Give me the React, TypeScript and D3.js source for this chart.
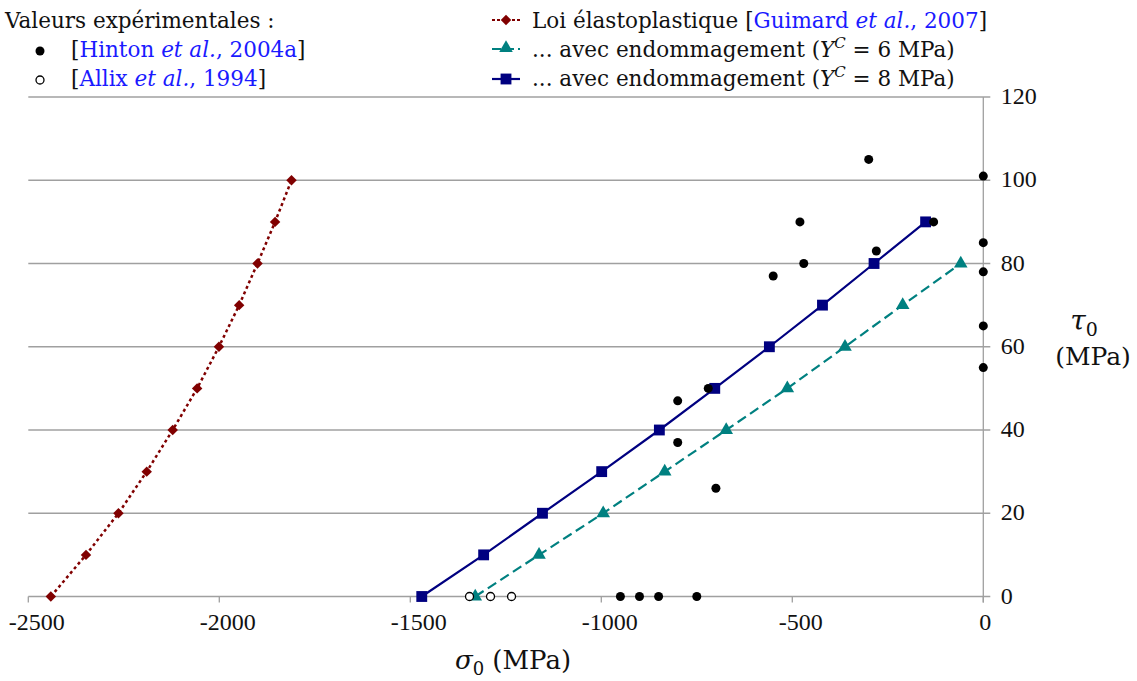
import React from "react";
import * as d3 from "d3";

const xTicks = [-2500, -2000, -1500, -1000, -500, 0];
const yTicks = [0, 20, 40, 60, 80, 100, 120];

const elastoSigma = [-2441, -2349, -2264, -2190, -2122, -2058, -2001, -1948, -1900, -1854, -1811];
const elastoTau = [0, 10, 20, 30, 40, 50, 60, 70, 80, 90, 100];

const damage6Sigma = [-1330, -1163, -995, -834, -673, -513, -362, -211, -59];
const damage6Tau = [0, 10, 20, 30, 40, 50, 60, 70, 80];

const damage8Sigma = [-1470, -1308, -1154, -999, -848, -703, -560, -421, -286, -151];
const damage8Tau = [0, 10, 20, 30, 40, 50, 60, 70, 80, 90];

const hintonSigma = [-950, -900, -850, -750, -800, -800, -720, -700, -300, 0, -480, -130, 0, -280, -470, 0, -550, 0, 0];
const hintonTau = [0, 0, 0, 0, 47, 37, 50, 26, 105, 101, 90, 90, 85, 83, 80, 78, 77, 65, 55];

const allixSigma = [-1345, -1290, -1235];
const allixTau = [0, 0, 0];

const W = 1137;
const H = 681;
const FONT = "DejaVu Serif";
const TICK_FONT = "Liberation Serif";
const BLUE = "#1a1aff";
const RED = "#800000";
const TEAL = "#008080";
const NAVY = "#000080";
const GRID = "#a0a0a0";

const zip = (a: number[], b: number[]) => a.map((v, i) => [v, b[i]] as [number, number]);

export default function App() {
  const x = d3.scaleLinear().domain([-2500, 0]).range([28.3, 983.3]);
  const y = d3.scaleLinear().domain([0, 120]).range([596.5, 97]);
  const line = d3
    .line<[number, number]>()
    .x((d) => x(d[0]))
    .y((d) => y(d[1]));

  const diamond = d3.symbol().type(d3.symbolDiamond2).size(70)()!;
  const tri = d3.symbol().type(d3.symbolTriangle).size(80)()!;
  const square = d3.symbol().type(d3.symbolSquare2).size(150)()!;

  const elasto = zip(elastoSigma, elastoTau);
  const d6 = zip(damage6Sigma, damage6Tau);
  const d8 = zip(damage8Sigma, damage8Tau);
  const hinton = zip(hintonSigma, hintonTau);
  const allix = zip(allixSigma, allixTau);

  const x0 = x(0);

  return (
    <svg
      width={W}
      height={H}
      style={{ position: "absolute", left: 0, top: 0, background: "#fff" }}
      fontFamily={FONT}
    >
      {/* gridlines */}
      {yTicks.map((t) => (
        <line key={"g" + t} x1={x(-2500)} x2={x0 + 7} y1={y(t)} y2={y(t)} stroke={GRID} strokeWidth={1.3} />
      ))}
      {/* vertical axis */}
      <line x1={x0} x2={x0} y1={y(120)} y2={y(0) + 6} stroke={GRID} strokeWidth={1.3} />
      {/* x ticks */}
      {xTicks.map((t) => (
        <line key={"xt" + t} x1={x(t)} x2={x(t)} y1={y(0)} y2={y(0) + 6} stroke={GRID} strokeWidth={1.3} />
      ))}
      {xTicks.map((t) => (
        <text
          key={"xl" + t}
          x={x(t) + (t < 0 ? 8.5 : 2)}
          y={y(0) + 33.5}
          textAnchor="middle"
          fontSize={24}
          fontFamily={TICK_FONT}
          fill="#111"
        >
          {t}
        </text>
      ))}
      {yTicks.map((t) => (
        <text
          key={"yl" + t}
          x={x0 + 17.5}
          y={y(t) + 7}
          textAnchor="start"
          fontSize={24}
          fontFamily={TICK_FONT}
          fill="#111"
        >
          {t}
        </text>
      ))}

      {/* elastoplastic */}
      <path d={line(elasto)!} fill="none" stroke={RED} strokeWidth={2.5} strokeDasharray="3,3" />
      {elasto.map((d, i) => (
        <path key={"e" + i} d={diamond} transform={`translate(${x(d[0])},${y(d[1])})`} fill={RED} />
      ))}

      {/* damage Yc = 6 */}
      <path d={line(d6)!} fill="none" stroke={TEAL} strokeWidth={2.2} strokeDasharray="10,5" />
      {d6.map((d, i) => (
        <path key={"t" + i} d={tri} transform={`translate(${x(d[0])},${y(d[1])})`} fill={TEAL} />
      ))}

      {/* damage Yc = 8 */}
      <path d={line(d8)!} fill="none" stroke={NAVY} strokeWidth={2.2} />
      {d8.map((d, i) => (
        <path key={"s" + i} d={square} transform={`translate(${x(d[0])},${y(d[1])})`} fill={NAVY} />
      ))}

      {/* experimental */}
      {hinton.map((d, i) => (
        <circle key={"h" + i} cx={x(d[0])} cy={y(d[1])} r={4.5} fill="#000" />
      ))}
      {allix.map((d, i) => (
        <circle key={"a" + i} cx={x(d[0])} cy={y(d[1])} r={4} fill="#fff" stroke="#000" strokeWidth={1.3} />
      ))}

      {/* axis titles */}
      <text x={513} y={669} textAnchor="middle" fontSize={26} fill="#111">
        <tspan fontStyle="italic">σ</tspan>
        <tspan fontSize={18} dy={6}>0</tspan>
        <tspan dy={-6}> (MPa)</tspan>
      </text>
      <text x={1084} y={330} textAnchor="middle" fontSize={28} fill="#111">
        <tspan fontStyle="italic">τ</tspan>
        <tspan fontSize={19} dy={6}>0</tspan>
      </text>
      <text x={1093} y={365} textAnchor="middle" fontSize={25} fill="#111">
        (MPa)
      </text>

      {/* left legend */}
      <g fontSize={21.5} fill="#111">
        <text x={5} y={28}>Valeurs expérimentales :</text>
        <circle cx={40} cy={51} r={4.5} fill="#000" />
        <text x={71} y={57}>
          [<tspan fill={BLUE}>Hinton </tspan>
          <tspan fill={BLUE} fontStyle="italic">et al.</tspan>
          <tspan fill={BLUE}>, 2004a</tspan>]
        </text>
        <circle cx={40} cy={80} r={4} fill="#fff" stroke="#000" strokeWidth={1.3} />
        <text x={71} y={86}>
          [<tspan fill={BLUE}>Allix </tspan>
          <tspan fill={BLUE} fontStyle="italic">et al.</tspan>
          <tspan fill={BLUE}>, 1994</tspan>]
        </text>
      </g>

      {/* right legend */}
      <g fontSize={21.5} fill="#111">
        <line x1={492} x2={520} y1={20} y2={20} stroke={RED} strokeWidth={2} strokeDasharray="3,2" />
        <path d={diamond} transform="translate(506,20)" fill={RED} />
        <text x={532} y={28}>
          Loi élastoplastique [<tspan fill={BLUE}>Guimard </tspan>
          <tspan fill={BLUE} fontStyle="italic">et al.</tspan>
          <tspan fill={BLUE}>, 2007</tspan>]
        </text>
        <line x1={492} x2={520} y1={49} y2={49} stroke={TEAL} strokeWidth={2.2} strokeDasharray="9,4" />
        <path d={tri} transform="translate(506,48)" fill={TEAL} />
        <text x={532} y={57}>
          ... avec endommagement (<tspan fontStyle="italic">Y</tspan>
          <tspan fontStyle="italic" fontSize={15} dy={-9}>C</tspan>
          <tspan dy={9}> = 6 MPa)</tspan>
        </text>
        <line x1={492} x2={520} y1={79} y2={79} stroke={NAVY} strokeWidth={2.2} />
        <path d={square} transform="translate(506,79)" fill={NAVY} />
        <text x={532} y={86}>
          ... avec endommagement (<tspan fontStyle="italic">Y</tspan>
          <tspan fontStyle="italic" fontSize={15} dy={-9}>C</tspan>
          <tspan dy={9}> = 8 MPa)</tspan>
        </text>
      </g>
    </svg>
  );
}
